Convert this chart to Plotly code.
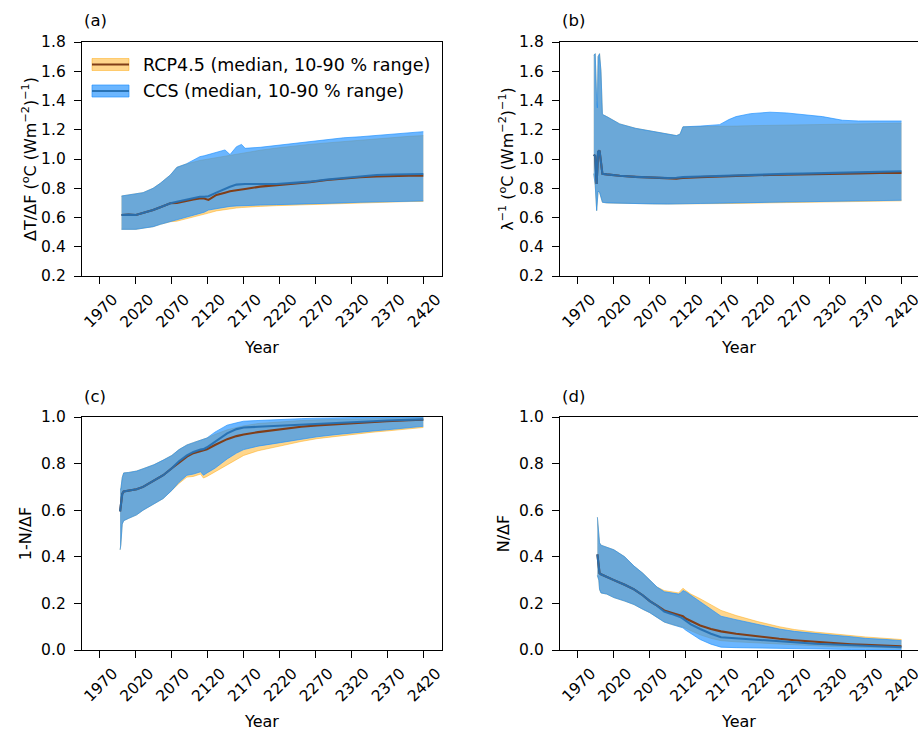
import plotly.graph_objects as go

# ---------------- data ----------------
# Panel (a): dT/dF
years_a = [2000, 2010, 2020, 2030, 2044, 2054, 2068, 2077, 2090, 2100, 2109, 2115, 2121, 2132, 2144,
           2151, 2160, 2167, 2172, 2193, 2216, 2239, 2262, 2286, 2309, 2332, 2355, 2378, 2400, 2420]
ccs_hi_a = [0.747, 0.755, 0.761, 0.77, 0.80, 0.834, 0.891, 0.943, 0.966, 0.99, 1.016, 1.022, 1.03, 1.05, 1.062,
            1.03, 1.084, 1.10, 1.073, 1.08, 1.093, 1.107, 1.12, 1.135, 1.145, 1.152, 1.162, 1.171, 1.18, 1.187]
rcp_hi_a = [0.747, 0.755, 0.761, 0.77, 0.80, 0.834, 0.891, 0.943, 0.966, 0.98, 0.99, 0.995, 1.0, 1.01, 1.02,
            1.025, 1.03, 1.04, 1.045, 1.06, 1.075, 1.09, 1.10, 1.11, 1.12, 1.13, 1.14, 1.15, 1.155, 1.16]
ccs_lo_a = [0.519, 0.519, 0.519, 0.527, 0.537, 0.553, 0.571, 0.583, 0.60, 0.617, 0.628, 0.636, 0.651, 0.66, 0.672,
            0.676, 0.679, 0.681, 0.682, 0.685, 0.688, 0.69, 0.694, 0.697, 0.70, 0.704, 0.707, 0.71, 0.712, 0.713]
rcp_lo_a = [0.519, 0.519, 0.519, 0.527, 0.537, 0.553, 0.571, 0.575, 0.59, 0.605, 0.615, 0.62, 0.63, 0.645, 0.655,
            0.66, 0.665, 0.668, 0.67, 0.676, 0.681, 0.685, 0.689, 0.693, 0.697, 0.70, 0.703, 0.706, 0.709, 0.71]
ccs_med_a = [0.617, 0.62, 0.617, 0.63, 0.651, 0.67, 0.697, 0.708, 0.722, 0.732, 0.742, 0.742, 0.745, 0.77, 0.797,
             0.81, 0.825, 0.829, 0.829, 0.829, 0.829, 0.837, 0.845, 0.86, 0.872, 0.88, 0.891, 0.894, 0.896, 0.897]
rcp_med_a = [0.617, 0.62, 0.617, 0.63, 0.651, 0.67, 0.697, 0.70, 0.715, 0.724, 0.73, 0.73, 0.72, 0.754, 0.77,
             0.78, 0.786, 0.79, 0.795, 0.811, 0.82, 0.829, 0.842, 0.856, 0.866, 0.875, 0.88, 0.884, 0.885, 0.885]

# Panel (b): lambda^-1
years_b = [1992, 1994, 1996, 1997, 1998, 2000, 2002, 2004, 2010, 2028, 2050, 2074, 2095, 2107, 2112,
           2116, 2140, 2167, 2180, 2190, 2210, 2237, 2260, 2282, 2310, 2338, 2360, 2390, 2420]
ccs_hi_b = [1.71, 1.72, 1.40, 1.35, 1.70, 1.72, 1.60, 1.305, 1.29, 1.24, 1.21, 1.19, 1.175, 1.16, 1.17,
            1.22, 1.225, 1.235, 1.27, 1.29, 1.31, 1.32, 1.315, 1.305, 1.29, 1.265, 1.26, 1.26, 1.26]
rcp_hi_b = [1.71, 1.72, 1.40, 1.35, 1.70, 1.72, 1.60, 1.305, 1.29, 1.24, 1.21, 1.19, 1.175, 1.16, 1.17,
            1.22, 1.222, 1.222, 1.223, 1.225, 1.228, 1.23, 1.232, 1.235, 1.237, 1.24, 1.242, 1.244, 1.245]
ccs_lo_b = [0.90, 0.82, 0.647, 0.72, 0.78, 0.773, 0.73, 0.704, 0.70, 0.697, 0.695, 0.693, 0.692, 0.692, 0.693,
            0.694, 0.696, 0.698, 0.70, 0.70, 0.702, 0.704, 0.706, 0.708, 0.71, 0.712, 0.714, 0.716, 0.718]
rcp_lo_b = [0.90, 0.82, 0.647, 0.72, 0.78, 0.773, 0.73, 0.704, 0.70, 0.697, 0.695, 0.693, 0.692, 0.692, 0.693,
            0.694, 0.694, 0.695, 0.696, 0.696, 0.698, 0.70, 0.702, 0.704, 0.706, 0.708, 0.71, 0.712, 0.714]
ccs_med_b = [1.03, 1.02, 0.83, 0.95, 1.05, 1.058, 0.95, 0.899, 0.895, 0.885, 0.878, 0.872, 0.87, 0.872, 0.874,
             0.876, 0.88, 0.885, 0.888, 0.89, 0.892, 0.895, 0.898, 0.90, 0.903, 0.906, 0.909, 0.913, 0.916]
rcp_med_b = [1.03, 1.02, 0.83, 0.95, 1.05, 1.058, 0.95, 0.899, 0.895, 0.885, 0.878, 0.872, 0.866, 0.866, 0.868,
             0.87, 0.876, 0.882, 0.884, 0.886, 0.888, 0.891, 0.894, 0.896, 0.898, 0.90, 0.902, 0.904, 0.905]

# Panel (c): 1 - N/dF
years_c = [1998, 1999, 2001, 2003, 2010, 2021, 2030, 2045, 2058, 2070, 2080, 2091, 2100, 2110, 2114,
           2119, 2130, 2147, 2160, 2170, 2190, 2221, 2250, 2272, 2300, 2320, 2350, 2369, 2400, 2420]
ccs_hi_c = [0.69, 0.69, 0.74, 0.76, 0.762, 0.768, 0.778, 0.795, 0.815, 0.835, 0.86, 0.88, 0.89, 0.90, 0.905,
            0.91, 0.935, 0.965, 0.975, 0.982, 0.985, 0.99, 0.993, 0.995, 0.997, 0.998, 1.0, 1.0, 1.0, 1.0]
rcp_hi_c = [0.69, 0.69, 0.74, 0.76, 0.762, 0.768, 0.778, 0.795, 0.815, 0.835, 0.86, 0.88, 0.89, 0.90, 0.905,
            0.91, 0.925, 0.945, 0.955, 0.962, 0.972, 0.98, 0.985, 0.988, 0.99, 0.992, 0.994, 0.995, 0.996, 0.997]
ccs_lo_c = [0.43, 0.45, 0.54, 0.555, 0.565, 0.58, 0.60, 0.625, 0.65, 0.685, 0.72, 0.75, 0.755, 0.765, 0.75,
            0.76, 0.78, 0.82, 0.845, 0.86, 0.875, 0.89, 0.905, 0.915, 0.925, 0.932, 0.94, 0.945, 0.955, 0.96]
rcp_lo_c = [0.43, 0.45, 0.54, 0.555, 0.565, 0.58, 0.60, 0.625, 0.65, 0.685, 0.715, 0.742, 0.745, 0.755, 0.738,
            0.745, 0.765, 0.795, 0.82, 0.835, 0.855, 0.877, 0.895, 0.907, 0.918, 0.925, 0.935, 0.94, 0.95, 0.955]
ccs_med_c = [0.595, 0.62, 0.67, 0.68, 0.685, 0.69, 0.70, 0.725, 0.75, 0.78, 0.81, 0.835, 0.85, 0.86, 0.862,
             0.87, 0.895, 0.93, 0.948, 0.955, 0.958, 0.962, 0.967, 0.97, 0.975, 0.978, 0.982, 0.985, 0.988, 0.99]
rcp_med_c = [0.595, 0.62, 0.67, 0.68, 0.685, 0.69, 0.70, 0.725, 0.75, 0.78, 0.805, 0.83, 0.845, 0.855, 0.858,
             0.862, 0.88, 0.905, 0.918, 0.925, 0.935, 0.948, 0.958, 0.964, 0.97, 0.974, 0.979, 0.982, 0.986, 0.988]

# Panel (d): N/dF
years_d = [1997, 1999, 2000, 2002, 2010, 2020, 2035, 2048, 2060, 2070, 2080, 2090, 2100, 2110, 2113, 2116,
           2120, 2127, 2140, 2155, 2169, 2190, 2220, 2250, 2271, 2300, 2320, 2350, 2370, 2400, 2420]
ccs_hi_d = [0.57, 0.50, 0.46, 0.45, 0.44, 0.43, 0.40, 0.36, 0.33, 0.30, 0.27, 0.25, 0.245, 0.24, 0.245, 0.255,
            0.25, 0.235, 0.205, 0.175, 0.145, 0.13, 0.11, 0.09, 0.08, 0.07, 0.065, 0.057, 0.05, 0.045, 0.04]
rcp_hi_d = [0.57, 0.50, 0.46, 0.45, 0.44, 0.43, 0.40, 0.36, 0.33, 0.30, 0.27, 0.255, 0.25, 0.245, 0.255, 0.265,
            0.255, 0.24, 0.22, 0.195, 0.17, 0.148, 0.122, 0.10, 0.088, 0.077, 0.07, 0.062, 0.056, 0.05, 0.045]
ccs_lo_d = [0.32, 0.30, 0.26, 0.245, 0.24, 0.225, 0.21, 0.195, 0.175, 0.16, 0.14, 0.12, 0.11, 0.10, 0.098, 0.095,
            0.085, 0.07, 0.045, 0.025, 0.012, 0.01, 0.008, 0.006, 0.005, 0.004, 0.003, 0.002, 0.002, 0.001, 0.001]
rcp_lo_d = [0.32, 0.30, 0.26, 0.245, 0.24, 0.225, 0.21, 0.195, 0.175, 0.16, 0.14, 0.12, 0.11, 0.10, 0.10, 0.098,
            0.092, 0.085, 0.065, 0.05, 0.04, 0.035, 0.03, 0.025, 0.022, 0.018, 0.015, 0.012, 0.01, 0.008, 0.007]
ccs_med_d = [0.41, 0.35, 0.33, 0.325, 0.315, 0.30, 0.28, 0.26, 0.235, 0.21, 0.19, 0.165, 0.155, 0.145, 0.14, 0.135,
             0.125, 0.11, 0.09, 0.07, 0.055, 0.05, 0.045, 0.038, 0.033, 0.027, 0.024, 0.02, 0.017, 0.014, 0.012]
rcp_med_d = [0.41, 0.35, 0.33, 0.325, 0.315, 0.30, 0.28, 0.26, 0.235, 0.21, 0.19, 0.17, 0.16, 0.15, 0.148, 0.145,
             0.135, 0.125, 0.105, 0.09, 0.08, 0.07, 0.058, 0.048, 0.042, 0.035, 0.03, 0.025, 0.022, 0.018, 0.016]

x_ticks = [1970, 2020, 2070, 2120, 2170, 2220, 2270, 2320, 2370, 2420]
panel_labels = ["(a)", "(b)", "(c)", "(d)"]
y_titles = ["ΔT/ΔF (<sup>o</sup>C (Wm<sup>−2</sup>)<sup>−1</sup>)",
            "λ<sup>−1</sup> (<sup>o</sup>C (Wm<sup>−2</sup>)<sup>−1</sup>)",
            "1-N/ΔF", "N/ΔF"]
legend_names = ["RCP4.5 (median, 10-90 % range)", "CCS (median, 10-90 % range)"]

# ---------------- style ----------------
W, H = 918, 732
FONT = "DejaVu Sans"
RCP_FILL = "rgba(255,165,0,0.45)"
CCS_FILL = "rgba(30,144,255,0.66)"
RCP_MED = "rgb(128,62,24)"
CCS_MED = "rgba(38,112,178,0.95)"

def px_x(p):
    return p / W

def px_y(p):
    return 1 - p / H

fig = go.Figure()

panels = [
    (years_a, rcp_lo_a, rcp_hi_a, rcp_med_a, ccs_lo_a, ccs_hi_a, ccs_med_a),
    (years_b, rcp_lo_b, rcp_hi_b, rcp_med_b, ccs_lo_b, ccs_hi_b, ccs_med_b),
    (years_c, rcp_lo_c, rcp_hi_c, rcp_med_c, ccs_lo_c, ccs_hi_c, ccs_med_c),
    (years_d, rcp_lo_d, rcp_hi_d, rcp_med_d, ccs_lo_d, ccs_hi_d, ccs_med_d),
]

for i, (yrs, rlo, rhi, rmed, clo, chi, cmed) in enumerate(panels):
    xa = "x" if i == 0 else f"x{i+1}"
    ya = "y" if i == 0 else f"y{i+1}"
    common = dict(xaxis=xa, yaxis=ya, showlegend=False, hoverinfo="skip")
    fig.add_trace(go.Scatter(x=yrs, y=rlo, mode="lines", line=dict(color=RCP_FILL, width=1), **common))
    fig.add_trace(go.Scatter(x=yrs, y=rhi, mode="lines", fill="tonexty", fillcolor=RCP_FILL,
                             line=dict(color=RCP_FILL, width=1), **common))
    fig.add_trace(go.Scatter(x=yrs, y=clo, mode="lines", line=dict(color=CCS_FILL, width=1), **common))
    fig.add_trace(go.Scatter(x=yrs, y=chi, mode="lines", fill="tonexty", fillcolor=CCS_FILL,
                             line=dict(color=CCS_FILL, width=1), **common))
    fig.add_trace(go.Scatter(x=yrs, y=rmed, mode="lines", line=dict(color=RCP_MED, width=2.1), **common))
    fig.add_trace(go.Scatter(x=yrs, y=cmed, mode="lines", line=dict(color=CCS_MED, width=2.1), **common))

# axes geometry (pixels)
left_dom = [px_x(82), px_x(442)]
right_dom = [px_x(560), 1.0]
top_dom = [px_y(276), px_y(42)]
bot_dom = [px_y(650), px_y(417)]

axis_font = dict(family=FONT, size=15.5, color="black")
title_font = dict(family=FONT, size=16, color="black")

layout = dict(
    width=W, height=H,
    margin=dict(l=0, r=0, t=0, b=0, autoexpand=False),
    paper_bgcolor="white", plot_bgcolor="white",
    font=dict(family=FONT, color="black"),
    showlegend=False,
)

doms = [(left_dom, top_dom, [0.2, 1.8], [1945, 2446]),
        (right_dom, top_dom, [0.2, 1.8], [1945, 2443]),
        (left_dom, bot_dom, [0.0, 1.0], [1945, 2446]),
        (right_dom, bot_dom, [0.0, 1.0], [1945, 2443])]
y_standoffs = [0, 1, 5, 5]

for i, (xd, yd, yr, xr) in enumerate(doms):
    xk = "xaxis" if i == 0 else f"xaxis{i+1}"
    yk = "yaxis" if i == 0 else f"yaxis{i+1}"
    ya = "y" if i == 0 else f"y{i+1}"
    xa = "x" if i == 0 else f"x{i+1}"
    right_panel = i in (1, 3)
    layout[xk] = dict(domain=xd, anchor=ya, range=xr, tickmode="array", tickvals=x_ticks,
                      ticktext=[str(t) for t in x_ticks], tickangle=-45,
                      ticks="outside", ticklen=7, tickwidth=1.2, tickcolor="black",
                      showline=True, linecolor="black", linewidth=1.3, mirror=True,
                      showgrid=False, zeroline=False, tickfont=axis_font,
                      ticklabelshift=13, ticklabeloverflow="allow", automargin=False,
                      title=dict(text="Year", font=title_font, standoff=11))
    layout[yk] = dict(domain=yd, anchor=xa, range=yr, dtick=0.2, tick0=0, tickformat=".1f",
                      ticks="outside", ticklen=7, tickwidth=1.2, tickcolor="black",
                      showline=True, linecolor="black", linewidth=1.3,
                      mirror=(not right_panel), automargin=False,
                      showgrid=False, zeroline=False, tickfont=axis_font,
                      ticklabelstandoff=5,
                      title=dict(text=y_titles[i], font=title_font, standoff=y_standoffs[i]))

fig.update_layout(**layout)

# panel labels
label_pos = [(82, 20), (560, 20), (82, 396), (560, 396)]
for lab, (lx, ly) in zip(panel_labels, label_pos):
    fig.add_annotation(x=px_x(lx), y=px_y(ly), xref="paper", yref="paper", text=lab,
                       showarrow=False, xanchor="left", yanchor="middle",
                       font=dict(family=FONT, size=16.5, color="black"))

# custom legend in panel (a)
leg_items = [(legend_names[0], RCP_FILL, RCP_MED, 64.5), (legend_names[1], CCS_FILL, CCS_MED, 91)]
for name, fc, lc, cy in leg_items:
    fig.add_shape(type="rect", xref="paper", yref="paper",
                  x0=px_x(92), x1=px_x(129), y0=px_y(cy + 6), y1=px_y(cy - 6),
                  fillcolor=fc, line=dict(color=fc, width=1))
    fig.add_shape(type="line", xref="paper", yref="paper",
                  x0=px_x(92), x1=px_x(129), y0=px_y(cy), y1=px_y(cy),
                  line=dict(color=lc, width=2.2))
    fig.add_annotation(x=px_x(141), y=px_y(cy), xref="paper", yref="paper", text=name,
                       showarrow=False, xanchor="left", yanchor="middle",
                       font=dict(family=FONT, size=17.5, color="black"))

fig.write_html("out.html")
